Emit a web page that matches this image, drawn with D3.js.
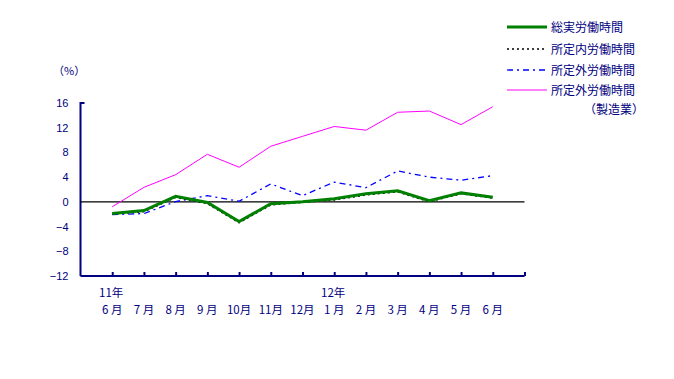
<!DOCTYPE html>
<html><head><meta charset="utf-8">
<script src="https://cdn.jsdelivr.net/npm/d3@7"></script>
<style>
body{margin:0;background:#fff;}
text{font-family:"Noto Sans CJK JP","Noto Sans",sans-serif;fill:#000080;}
</style></head>
<body><svg id="c" width="674" height="379"></svg>
<script>
const yearLabels = ["11年","","","","","","","12年","","","","",""];
const months = ["6 月","7 月","8 月","9 月","10月","11月","12月","1 月","2 月","3 月","4 月","5 月","6 月"];
const total      = [-1.9,-1.4, 0.9,-0.1,-3.2,-0.3, 0.0, 0.5, 1.3, 1.8, 0.2, 1.45, 0.75];
const scheduled  = [-2.0,-1.6, 0.7,-0.3,-3.4,-0.5,-0.1, 0.3, 1.1, 1.6, 0.0, 1.3, 0.6];
const overtime   = [-2.05,-1.9, 0.05, 1.0, 0.1, 2.9, 1.0, 3.2, 2.3, 5.0, 4.0, 3.5, 4.25];
const overtimeMfg= [-0.8, 2.35, 4.4, 7.7, 5.6, 9.0, 10.6, 12.2, 11.6, 14.5, 14.7, 12.5, 15.4];
const yTicks = [-12,-8,-4,0,4,8,12,16];
const seriesNames = ["総実労働時間","所定内労働時間","所定外労働時間","所定外労働時間"];

const svg = d3.select("#c");
const x0 = 80.5, x1 = 524.5, yTop = 103, yBot = 276;
const x = d3.scaleLinear().domain([-1, months.length]).range([x0, x1]);
const y = d3.scaleLinear().domain([-12, 16]).range([yBot, yTop]);
const navy = "#000080";

// axes
const yAxis = d3.axisLeft(y).tickValues(yTicks).tickSize(0).tickPadding(12).tickFormat(d3.format("d"));
const gy = svg.append("g").attr("transform", `translate(${x0},0)`).call(yAxis);
gy.select(".domain").attr("stroke", navy).attr("stroke-width", 2).attr("d", `M4,${yTop}H0V${yBot}`);
gy.selectAll(".tick text").attr("fill", navy).style("font-size","11px").style("font-family","'Liberation Sans',sans-serif");

const xAxis = d3.axisBottom(x).tickValues(d3.range(0, months.length + 1)).tickSize(-4).tickFormat("");
const gx = svg.append("g").attr("transform", `translate(0,${yBot})`).call(xAxis);
gx.select(".domain").attr("stroke", navy).attr("stroke-width", 2).attr("d", `M${x0},0H${x1}`);
gx.selectAll(".tick line").attr("stroke", navy).attr("stroke-width", 2);

// zero line
svg.append("line").attr("x1", x0).attr("x2", x1).attr("y1", y(0)).attr("y2", y(0))
  .attr("stroke", "#000").attr("stroke-width", 1.3);

// x labels
svg.append("g").selectAll("text").data(months).join("text")
  .attr("x", (d,i) => x(i)).attr("y", 314).attr("text-anchor", "middle")
  .style("font-size","11.5px").text(d => d);
svg.append("g").selectAll("text").data(yearLabels).join("text")
  .attr("x", (d,i) => x(i) - 1).attr("y", 297).attr("text-anchor", "middle")
  .style("font-size","11.5px").text(d => d);

svg.append("text").attr("x", 53).attr("y", 75).style("font-size","11px").text("（%）");

const line = d3.line().x((d,i) => x(i)).y(d => y(d));
const styles = [
  {data: overtimeMfg, color: "#FF00FF", w: 1, dash: null},
  {data: overtime, color: "#0000FF", w: 1.3, dash: "6,4,2,4"},
  {data: scheduled, color: "#000", w: 1.3, dash: "2,3"},
  {data: total, color: "#008000", w: 3, dash: null},
];
styles.forEach(s => {
  svg.append("path").datum(s.data).attr("d", line).attr("fill", "none")
    .attr("stroke", s.color).attr("stroke-width", s.w).attr("stroke-dasharray", s.dash);
});

// legend
const leg = [
  {name: seriesNames[0], color: "#008000", w: 3, dash: null, yy: 27},
  {name: seriesNames[1], color: "#000", w: 1.3, dash: "2,3", yy: 49},
  {name: seriesNames[2], color: "#0000FF", w: 1.3, dash: "6,4,2,4", yy: 70},
  {name: seriesNames[3], color: "#FF00FF", w: 1, dash: null, yy: 90},
];
const lg = svg.append("g");
leg.forEach(l => {
  lg.append("line").attr("x1", 507).attr("x2", 547).attr("y1", l.yy).attr("y2", l.yy)
    .attr("stroke", l.color).attr("stroke-width", l.w).attr("stroke-dasharray", l.dash);
  lg.append("text").attr("x", 551).attr("y", l.yy + 4.5).style("font-size","12px").text(l.name);
});
lg.append("text").attr("x", 584).attr("y", 114).style("font-size","12px").text("（製造業）");
</script></body></html>
